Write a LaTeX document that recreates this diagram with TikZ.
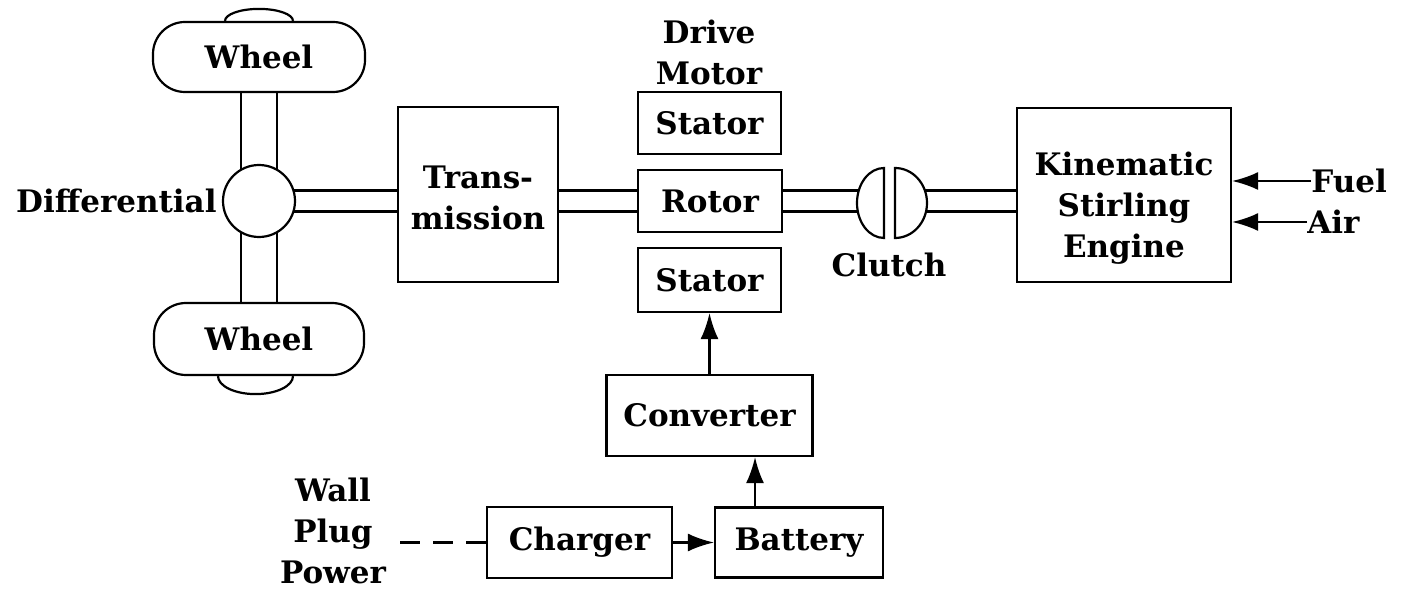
\documentclass[tikz,border=0pt]{standalone}
\usepackage{fontspec}
\setmainfont{DejaVu Serif}
\usetikzlibrary{calc,arrows.meta,backgrounds}
\begin{document}
\begin{tikzpicture}[x=0.5pt,y=-0.5pt,
  every node/.style={font=\fontsize{15.5pt}{20.5pt}\selectfont\bfseries, align=center},
  box/.style={draw, line width=1.1pt, inner sep=0pt},
  lbl/.style={inner sep=0pt},
  shaftH/.style={line width=1.1pt, double distance=9.4pt},
  shaftV/.style={line width=1.1pt, double distance=16.9pt},
  arr/.style={line width=1.1pt, -{Latex[length=13pt,width=9pt]}},
  ln/.style={line width=1.1pt}]
\useasboundingbox (0,0) rectangle (1404,593);

% boxes
\node[box, rounded corners=16pt, minimum width=106pt, minimum height=35pt] (wheelT) at (259,57) {Wheel};
\node[box, rounded corners=16pt, minimum width=105pt, minimum height=36pt] (wheelB) at (259,339) {Wheel};
\node[box, circle, fill=white, minimum size=36pt] (diff) at (259,201) {};
\node[box, minimum width=80pt, minimum height=87.5pt] (trans) at (478,194.5) {};
\node[lbl] (transT) at ($(trans.center)+(0,3)$) {Trans-\\mission};
\node[box, minimum width=71.5pt, minimum height=31pt] (statT) at (709.5,123) {Stator};
\node[box, minimum width=72pt, minimum height=31pt] (rotor) at (710,201) {Rotor};
\node[box, minimum width=71.5pt, minimum height=32pt] (statB) at (709.5,280) {Stator};
\node[box, minimum width=103pt, minimum height=40.5pt] (conv) at (709.5,415.5) {Converter};
\node[box, minimum width=92.5pt, minimum height=35.5pt] (charger) at (579.5,542.5) {Charger};
\node[box, minimum width=84pt, minimum height=35pt] (batt) at (799,542.5) {Battery};
\node[box, minimum width=107pt, minimum height=87pt] (engine) at (1124,195) {};
\node[lbl] (engineT) at ($(engine.center)+(0,13)$) {Kinematic\\Stirling\\Engine};

% labels
\node[lbl, anchor=east] (diffL) at (217,201) {Differential};
\node[lbl] (drive) at (709,52) {Drive\\Motor};
\node[lbl] (clutchT) at (889,265) {Clutch};
\node[lbl, anchor=west] (fuel) at (1311,181) {Fuel};
\node[lbl, anchor=west] (air) at (1307,222) {Air};
\node[lbl] (wall) at (333,531) {Wall\\Plug\\Power};

% clutch
\coordinate (clL) at (884,203);
\coordinate (clR) at (895,203);
\draw[ln, fill=white] ($(clL)+(0,-35)$) arc[start angle=90, end angle=270, x radius=13.5pt, y radius=17.5pt] -- cycle;
\draw[ln, fill=white] ($(clR)+(0,-35)$) arc[start angle=90, end angle=-90, x radius=16pt, y radius=17.5pt] -- cycle;

% wheel bumps
\draw[ln] ($(wheelT.north)+(-34,0)$) arc[start angle=180, end angle=0, x radius=17pt, y radius=6pt];
\draw[ln] ($(wheelB.south)+(-41,0)$) arc[start angle=180, end angle=360, x radius=18.75pt, y radius=9pt];

% shafts
\begin{scope}[on background layer]
\fill[white] (0,0) rectangle (1404,593);
\draw[shaftV] (wheelT.south) -- (diff.center);
\draw[shaftV] (diff.center) -- (wheelB.north);
\draw[shaftH] (diff.center) -- (trans.west |- diff.center);
\draw[shaftH] (trans.east |- rotor.west) -- (rotor.west);
\draw[shaftH] (rotor.east) -- (clL |- rotor.east);
\draw[shaftH] (clR |- rotor.east) -- (engine.west |- rotor.east);
\end{scope}

% arrows
\draw[arr] (conv.north) -- (statB.south);
\coordinate (bx) at (755,0);
\draw[arr] (batt.north -| bx) -- (conv.south -| bx);
\draw[arr] (charger.east) -- (batt.west);
\draw[arr] (fuel.west) -- (engine.east |- fuel.west);
\draw[arr] (air.west) -- (engine.east |- air.west);
\coordinate (wp) at (400,542.5);
\draw[ln, dash pattern=on 10pt off 6.5pt] (wp) -- (charger.west);
\end{tikzpicture}
\end{document}
